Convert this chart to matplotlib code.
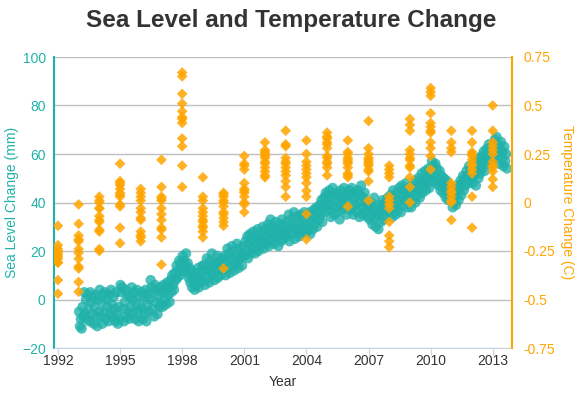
import matplotlib
matplotlib.use("Agg")
import matplotlib.pyplot as plt

# ---------------- data ----------------
# Sea level change (mm), ~2 readings per month, per year
sea_years = list(range(1993, 2014))
sea_level_mm = [
    [-5, -11, -8, -12, -3, -7, 3, -6, 0, -8, 2, -4, -9, 3, -1, -6, 1, -10, -3, 2, -7, -11, 0, -5],      # 1993
    [4, -7, -1, -10, 2, -5, 3, -8, 0, -3, -9, 2, -6, 4, -2, -7, 1, -4, -9, 3, -6, -10, -3, -8],         # 1994
    [6, 3, 5, -4, -9, -1, 4, -7, 2, -5, -8, 1, -3, 5, -6, 0, 3, -8, -2, 4, -5, -9, 1, -4],              # 1995
    [-3, 3, -8, 1, -6, 4, -9, -2, 2, -5, 0, 8, 5, -4, 3, -7, 6, -1, 4, -6, 1, -3, 5, -2],               # 1996
    [3, -3, 6, 0, 4, -2, 7, 2, 5, -1, 8, 3, 10, 6, 4, 11, 8, 14, 9, 12, 16, 10, 15, 13],                # 1997
    [18, 12, 16, 14, 19, 11, 15, 9, 13, 7, 12, 5, 10, 8, 4, 11, 6, 9, 13, 5, 10, 7, 12, 14],            # 1998
    [8, 14, 6, 12, 17, 9, 13, 7, 16, 11, 19, 10, 14, 8, 15, 12, 18, 9, 13, 16, 10, 17, 12, 15],         # 1999
    [12, 18, 10, 16, 21, 13, 19, 11, 17, 22, 14, 20, 12, 18, 15, 23, 16, 13, 21, 17, 19, 14, 22, 18],   # 2000
    [18, 24, 20, 26, 17, 23, 27, 19, 25, 21, 28, 22, 19, 26, 24, 29, 20, 25, 22, 28, 24, 30, 21, 26],   # 2001
    [23, 29, 25, 31, 22, 27, 33, 24, 28, 30, 23, 26, 32, 25, 29, 22, 27, 31, 24, 33, 28, 25, 30, 27],   # 2002
    [26, 32, 28, 35, 24, 30, 33, 27, 31, 36, 25, 29, 34, 28, 32, 26, 35, 30, 27, 33, 29, 36, 31, 28],   # 2003
    [28, 34, 30, 36, 27, 32, 35, 29, 37, 31, 34, 38, 30, 36, 33, 39, 35, 41, 32, 38, 42, 36, 44, 39],   # 2004
    [43, 37, 45, 39, 34, 42, 46, 38, 35, 41, 44, 36, 43, 39, 33, 45, 40, 37, 42, 46, 38, 41, 35, 44],   # 2005
    [41, 45, 37, 43, 46, 38, 35, 42, 44, 39, 36, 45, 40, 34, 43, 47, 38, 35, 42, 44, 37, 40, 34, 39],   # 2006
    [38, 33, 40, 35, 31, 37, 42, 34, 30, 38, 35, 29, 39, 36, 32, 37, 41, 33, 38, 40, 35, 39, 42, 37],   # 2007
    [36, 43, 39, 34, 45, 38, 42, 35, 44, 40, 37, 46, 41, 36, 47, 43, 39, 45, 41, 48, 44, 38, 46, 42],   # 2008
    [44, 38, 47, 41, 45, 49, 40, 46, 43, 50, 45, 42, 48, 52, 44, 49, 47, 53, 45, 50, 48, 54, 46, 51],   # 2009
    [53, 57, 49, 55, 51, 56, 48, 54, 50, 47, 53, 45, 51, 48, 44, 50, 46, 42, 49, 45, 41, 47, 43, 46],   # 2010
    [42, 38, 45, 40, 44, 39, 43, 47, 41, 46, 49, 43, 48, 51, 45, 50, 47, 53, 48, 51, 55, 49, 53, 50],   # 2011
    [48, 54, 51, 56, 47, 53, 58, 50, 55, 52, 59, 54, 57, 61, 53, 58, 62, 56, 60, 64, 57, 61, 63, 59],   # 2012
    [63, 58, 66, 61, 67, 59, 64, 56, 62, 65, 58, 61, 55, 63, 57, 60, 54],                               # 2013
]
readings_per_year = 24

# Temperature change (C), monthly values grouped by year
temp_years = list(range(1992, 2014))
temp_change_c = [
    [-0.12, -0.22, -0.24, -0.25, -0.26, -0.27, -0.28, -0.29, -0.31, -0.31, -0.40, -0.47],  # 1992
    [-0.01, -0.11, -0.17, -0.19, -0.20, -0.24, -0.26, -0.29, -0.33, -0.34, -0.41, -0.46],  # 1993
    [0.03, 0.01, 0.00, -0.03, -0.03, -0.07, -0.09, -0.10, -0.14, -0.15, -0.24, -0.25],     # 1994
    [0.20, 0.11, 0.10, 0.09, 0.07, 0.05, 0.04, 0.03, -0.01, -0.02, -0.13, -0.21],         # 1995
    [0.07, 0.05, 0.03, 0.01, -0.03, -0.05, -0.08, -0.09, -0.15, -0.17, -0.18, -0.20],     # 1996
    [0.22, 0.08, 0.03, 0.02, 0.01, -0.03, -0.06, -0.09, -0.13, -0.14, -0.18, -0.32],      # 1997
    [0.67, 0.65, 0.56, 0.51, 0.47, 0.44, 0.43, 0.41, 0.33, 0.29, 0.19, 0.08],             # 1998
    [0.13, 0.03, 0.01, -0.03, -0.05, -0.07, -0.09, -0.10, -0.12, -0.13, -0.15, -0.18],    # 1999
    [0.05, 0.04, 0.03, 0.01, 0.00, -0.02, -0.05, -0.06, -0.08, -0.10, -0.12, -0.34],      # 2000
    [0.24, 0.20, 0.19, 0.17, 0.10, 0.07, 0.06, 0.05, 0.03, 0.00, -0.01, -0.05],           # 2001
    [0.31, 0.27, 0.26, 0.25, 0.24, 0.23, 0.21, 0.20, 0.18, 0.16, 0.14, 0.13],             # 2002
    [0.37, 0.30, 0.29, 0.23, 0.21, 0.20, 0.18, 0.16, 0.14, 0.11, 0.08, 0.03],             # 2003
    [0.32, 0.25, 0.21, 0.19, 0.17, 0.15, 0.13, 0.10, 0.06, 0.03, -0.06, -0.19],           # 2004
    [0.36, 0.34, 0.33, 0.31, 0.30, 0.28, 0.24, 0.23, 0.21, 0.20, 0.18, 0.14],             # 2005
    [0.32, 0.26, 0.25, 0.23, 0.22, 0.21, 0.20, 0.18, 0.15, 0.14, 0.13, -0.02],            # 2006
    [0.42, 0.28, 0.25, 0.23, 0.22, 0.21, 0.20, 0.19, 0.17, 0.16, 0.11, 0.01],             # 2007
    [0.19, 0.17, 0.15, 0.13, 0.03, 0.01, -0.01, -0.03, -0.10, -0.17, -0.20, -0.23],       # 2008
    [0.43, 0.40, 0.37, 0.27, 0.25, 0.23, 0.22, 0.19, 0.18, 0.13, 0.08, 0.00],             # 2009
    [0.59, 0.57, 0.55, 0.46, 0.41, 0.39, 0.37, 0.36, 0.31, 0.28, 0.24, 0.17],             # 2010
    [0.37, 0.31, 0.28, 0.26, 0.10, 0.08, 0.06, 0.05, 0.03, 0.01, 0.00, -0.09],            # 2011
    [0.37, 0.31, 0.26, 0.25, 0.24, 0.22, 0.20, 0.19, 0.17, 0.15, 0.03, -0.13],            # 2012
    [0.50, 0.37, 0.31, 0.29, 0.27, 0.25, 0.21, 0.19, 0.18, 0.16, 0.12, 0.08],             # 2013
]

x_ticks = [1992, 1995, 1998, 2001, 2004, 2007, 2010, 2013]
left_ticks = [-20, 0, 20, 40, 60, 80, 100]
right_ticks = [-0.75, -0.5, -0.25, 0, 0.25, 0.5, 0.75]
right_labels = ["-0.75", "-0.5", "-0.25", "0", "0.25", "0.5", "0.75"]

# ---------------- style ----------------
TEAL = "#20B2AA"
ORANGE = "#FFA500"
TEXT = "#333333"
plt.rcParams["font.family"] = ["Liberation Sans", "DejaVu Sans"]

# ---------------- build series ----------------
sea_x, sea_y = [], []
for yr, vals in zip(sea_years, sea_level_mm):
    for i, v in enumerate(vals):
        sea_x.append(yr + (i + 0.5) / readings_per_year)
        sea_y.append(v)

temp_x, temp_y = [], []
for yr, vals in zip(temp_years, temp_change_c):
    for v in vals:
        temp_x.append(yr)
        temp_y.append(v)

# ---------------- figure ----------------
fig = plt.figure(figsize=(5.82, 4.19), dpi=100)
ax = fig.add_axes([54 / 582, 1 - 348 / 419, (512 - 54) / 582, (348 - 57) / 419])
ax2 = ax.twinx()

ax.scatter(sea_x, sea_y, s=55, color=TEAL, alpha=0.8, edgecolors="none", zorder=3)
ax2.scatter(temp_x, temp_y, s=30, marker="D", color=ORANGE, alpha=0.85,
            edgecolors="none", zorder=4)

ax.set_xlim(1991.81, 2013.93)
ax.set_ylim(-20, 100)
ax2.set_ylim(-0.75, 0.75)

ax.set_xticks(x_ticks)
ax.set_xticklabels([str(t) for t in x_ticks])
ax.set_yticks(left_ticks)
ax2.set_yticks(right_ticks)
ax2.set_yticklabels(right_labels)

ax.yaxis.grid(True, color="#C0C0C0", linewidth=1)
ax.set_axisbelow(True)

for a in (ax, ax2):
    a.spines["top"].set_visible(False)
    a.set_facecolor("none")
ax.spines["right"].set_visible(False)
ax2.spines["left"].set_visible(False)
ax.spines["left"].set_color(TEAL)
ax.spines["left"].set_linewidth(1.5)
ax2.spines["right"].set_color(ORANGE)
ax2.spines["right"].set_linewidth(1.5)
ax.spines["bottom"].set_color("#CCD6EB")
ax2.spines["bottom"].set_visible(False)

ax.tick_params(axis="y", length=0, labelcolor=TEAL, labelsize=10, pad=6)
ax2.tick_params(axis="y", length=0, labelcolor=ORANGE, labelsize=10, pad=8)
ax.tick_params(axis="x", length=5, color="#CCD6EB", labelcolor=TEXT, labelsize=10, pad=-1)

ax.set_ylabel("Sea Level Change (mm)", color=TEAL, fontsize=10)
ax.yaxis.label.set_va("center")
ax.yaxis.set_label_coords((12 - 54) / 458, 0.5)

ax2.set_ylabel("Temperature Change (C)", color=ORANGE, fontsize=10, rotation=270)
ax2.yaxis.label.set_va("center")
ax2.yaxis.set_label_coords((567 - 54) / 458, 0.5)

ax.set_xlabel("Year", color=TEXT, fontsize=10)
ax.xaxis.label.set_va("center")
ax.xaxis.set_label_coords(0.5, (348 - 382) / 291)

fig.text(0.5, 1 - 20 / 419, "Sea Level and Temperature Change", ha="center", va="center",
         fontsize=17.5, fontweight="bold", color=TEXT)

fig.savefig("out.png", dpi=100)
